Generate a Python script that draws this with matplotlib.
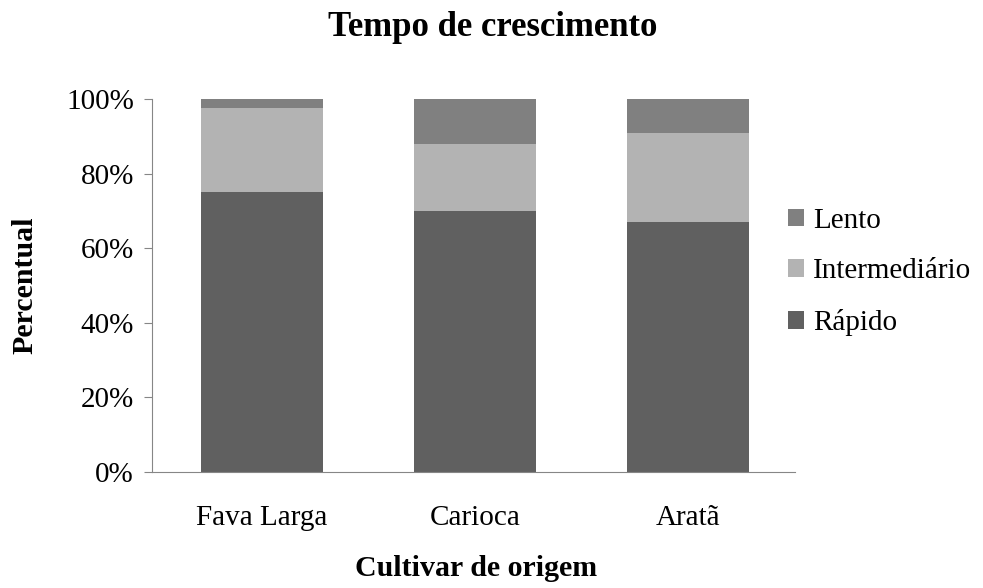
import matplotlib
matplotlib.use("Agg")
import matplotlib.pyplot as plt
from matplotlib.ticker import FuncFormatter
import numpy as np

categories = ["Fava Larga", "Carioca", "Aratã"]
rapido = [75, 70, 67]
intermediario = [22.5, 18, 24]
lento = [2.5, 12, 9]

plt.rcParams['font.family'] = ['Liberation Serif', 'DejaVu Serif']

W, H = 983, 588
fig = plt.figure(figsize=(W / 100, H / 100), dpi=100)
ax = fig.add_axes([152 / W, 1 - 472 / H, (795 - 152) / W, (472 - 99) / H])

x = np.arange(len(categories))
w = 0.57
c_r, c_i, c_l = "#606060", "#b3b3b3", "#808080"
b1 = ax.bar(x, rapido, w, color=c_r, label="Rápido")
b2 = ax.bar(x, intermediario, w, bottom=rapido, color=c_i, label="Intermediário")
bot = np.array(rapido) + np.array(intermediario)
b3 = ax.bar(x, lento, w, bottom=bot, color=c_l, label="Lento")

ax.set_xlim(-0.516, 2.502)
ax.set_ylim(0, 100)
ax.set_yticks([0, 20, 40, 60, 80, 100])
ax.yaxis.set_major_formatter(FuncFormatter(lambda v, p: f"{int(v)}%"))
ax.set_xticks(x)
ax.set_xticklabels(categories)
for s in ["top", "right"]:
    ax.spines[s].set_visible(False)
for s in ["left", "bottom"]:
    ax.spines[s].set_color("#868686")
ax.tick_params(axis="y", length=6, color="#868686", labelsize=21, pad=7)
ax.tick_params(axis="x", length=0, labelsize=21, pad=24)

fig.text(493 / W, 1 - 28 / H, "Tempo de crescimento", fontsize=25, fontweight="bold",
         ha="center", va="center")
fig.text(25 / W, 1 - 285 / H, "Percentual", fontsize=21.5, fontweight="bold",
         ha="center", va="center", rotation=90)
fig.text(476 / W, 1 - 569 / H, "Cultivar de origem", fontsize=21.5, fontweight="bold",
         ha="center", va="center")

handles = [b3, b2, b1]
leg = fig.legend(handles, ["Lento", "Intermediário", "Rápido"], loc="center left",
                 bbox_to_anchor=(788 / W, 1 - 272 / H), frameon=False, fontsize=21,
                 handlelength=0.55, handleheight=0.55, handletextpad=0.3, labelspacing=0.85,
                 borderaxespad=0, borderpad=0)

fig.savefig("out.png", dpi=100)
